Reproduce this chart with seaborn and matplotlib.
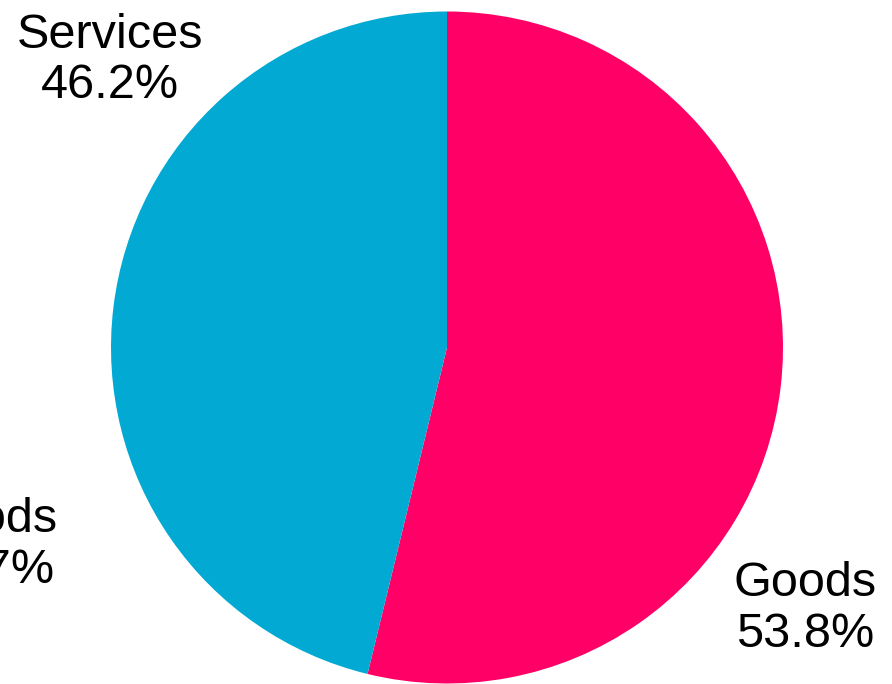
import seaborn as sns
from matplotlib import pyplot as plt

sns.set_style("white")
plt.rcParams['font.family'] = ['Liberation Sans', 'DejaVu Sans']

# data
categories = ['Goods', 'Services']
shares = [53.8, 46.2]
colors = ['#FF0066', '#02A9D3']

# label spots (data coords, pie radius = 1)
label_pos = {'Goods': (1.065, -0.778), 'Services': (-1.003, 0.855)}
extra_label = 'Goods\n46.7%'   # cut-off label at the left edge
extra_pos = (-1.372, -0.588)

fig = plt.figure(figsize=(8.92, 6.84), dpi=100)
ax = fig.add_axes([(447 - 336) / 892, (336.5 - 336) / 684, 672 / 892, 672 / 684])

ax.pie(shares, colors=colors, startangle=90, counterclock=False, radius=1,
       wedgeprops=dict(linewidth=0))

for cat, val in zip(categories, shares):
    x, y = label_pos[cat]
    ax.text(x, y, f"{cat}\n{val:.1f}%", ha='center', va='center',
            fontsize=35, linespacing=1.15, color='black')

ax.text(extra_pos[0], extra_pos[1], extra_label, ha='center', va='center',
        fontsize=35, linespacing=1.15, color='black', clip_on=False)

ax.set_xlim(-1, 1)
ax.set_ylim(-1, 1)
ax.set_aspect('equal')
ax.axis('off')

plt.savefig('out.png', dpi=100)
